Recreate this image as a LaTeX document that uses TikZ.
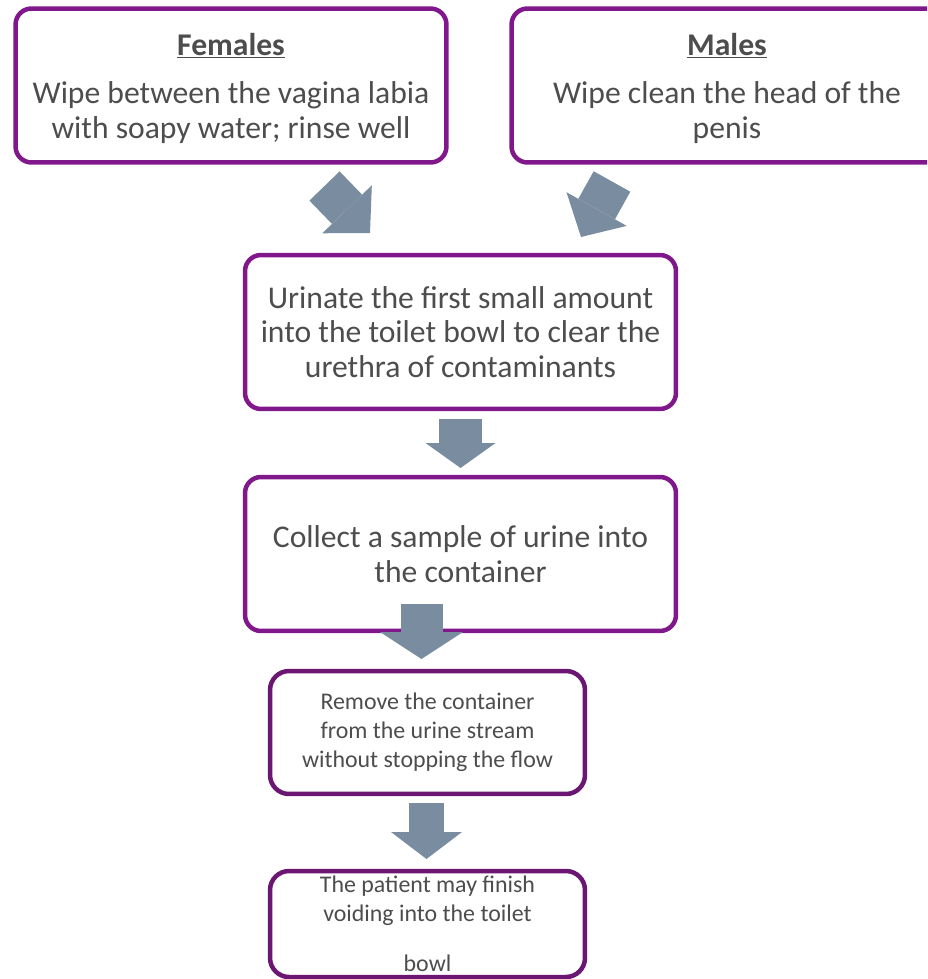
\documentclass[tikz,border=0pt]{standalone}
\usepackage{fontspec}
\setmainfont{Carlito}
\usetikzlibrary{arrows.meta}

\definecolor{boxpurple}{RGB}{128,24,140}
\definecolor{darkpurple}{RGB}{106,22,114}
\definecolor{arrowgray}{RGB}{122,141,160}
\definecolor{textgray}{RGB}{77,77,77}

\tikzset{
    stepbox/.style={draw=boxpurple, line width=0.09cm, rounded corners=0.32cm, fill=white, text=textgray, align=center, inner sep=0pt, font=\fontsize{18}{19.8}\selectfont, minimum width=8.62cm, minimum height=3.08cm},
    smallbox/.style={stepbox, draw=darkpurple, rounded corners=0.38cm, font=\fontsize{13.6}{16.4}\selectfont, minimum width=6.3cm},
    blockarr/.style={draw=arrowgray, line width=#1, -{Triangle[length=0.5cm, width=1.4cm, line width=0pt]}},
    blockarr/.default=0.86cm
}

\begin{document}
\begin{tikzpicture}[x=0.02cm, y=-0.02cm]
        \useasboundingbox (0,0) rectangle (927,979);
        \clip (0,0) rectangle (927,979);
        \node [stepbox] (fem) at (231,85.5) {\textbf{\underline{Females}}\\[0.27cm]Wipe between the vagina labia\\\smash{with soapy water; rinse well}};
        \node [stepbox] (mal) at (727,85.5) {\textbf{\underline{Males}}\\[0.27cm]Wipe clean the head of the\\\smash{penis}};
        \node [stepbox] (uri) at (460.5,332) {Urinate the first small amount\\into the toilet bowl to clear the\\urethra of contaminants};
        \node [stepbox] (col) at (460.5,554) {Collect a sample of urine into\\the container};
        \node [smallbox, minimum height=2.46cm] (rem) at (427.5,732.5) {Remove the container\\from the urine stream\\without stopping the flow};
        \node [smallbox, minimum height=2.12cm] (fin) at (427.5,924) {The patient may finish\\voiding into the toilet\\[0.42cm]bowl};
        \coordinate (femtail) at (324.5,186);
        \coordinate (femtip) at (370,233);
        \coordinate (maltail) at (612,181.5);
        \coordinate (maltip) at (581,237);
        \coordinate (uritail) at (460.5,419);
        \coordinate (uritip) at (460.5,468);
        \coordinate (coltail) at (421.5,604);
        \coordinate (coltip) at (421.5,659);
        \coordinate (remtail) at (426.5,803);
        \coordinate (remtip) at (426.5,859);
        \draw [blockarr=0.84cm, -{Triangle[length=0.66cm, width=1.38cm, line width=0pt]}] (femtail) -- (femtip);
        \draw [blockarr=0.84cm, -{Triangle[length=0.64cm, width=1.38cm, line width=0pt]}] (maltail) -- (maltip);
        \draw [blockarr] (uritail) -- (uritip);
        \draw [blockarr=0.84cm, -{Triangle[length=0.54cm, width=1.66cm, line width=0pt]}] (coltail) -- (coltip);
        \draw [blockarr=0.7cm, -{Triangle[length=0.54cm, width=1.42cm, line width=0pt]}] (remtail) -- (remtip);
    \end{tikzpicture}
\end{document}
